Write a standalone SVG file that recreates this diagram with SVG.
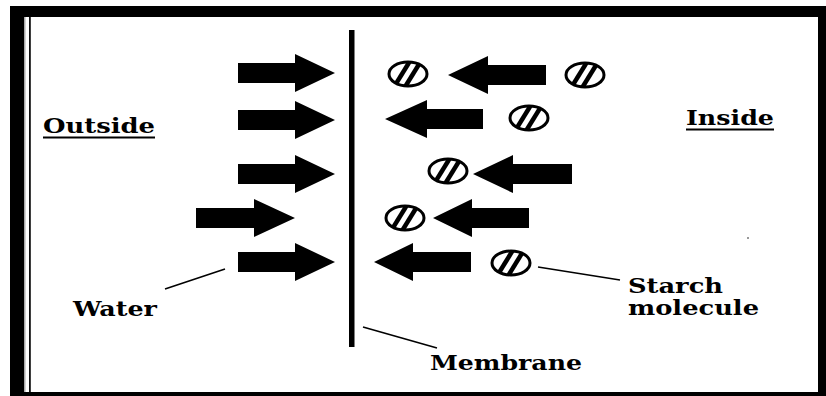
<svg xmlns="http://www.w3.org/2000/svg" xmlns:xlink="http://www.w3.org/1999/xlink" width="826" height="396" viewBox="0 0 826 396">
  <style>
    .arrow { fill: #000; }
    .lbl { font-family: "DejaVu Serif", "Liberation Serif", serif; font-weight: bold; font-size: 20px; fill: #000; }
    .lead { stroke: #000; stroke-width: 1.6; fill: none; }
    .ul { stroke: #000; stroke-width: 1.8; }
  </style>
  <defs>
    <clipPath id="ec"><ellipse cx="0" cy="0" rx="19" ry="12"/></clipPath>
    <g id="starch">
      <ellipse cx="0" cy="0" rx="19" ry="12" fill="#fff"/>
      <g clip-path="url(#ec)" stroke="#000" stroke-width="4.5">
        <line x1="-14" y1="13" x2="2" y2="-13"/>
        <line x1="-3" y1="13" x2="13" y2="-13"/>
      </g>
      <ellipse cx="0" cy="0" rx="19" ry="12" fill="none" stroke="#000" stroke-width="3"/>
    </g>
  </defs>

  <!-- frame -->
  <g id="frame">
    <rect x="10" y="6" width="816" height="390" fill="#000"/>
    <rect x="24" y="17" width="794" height="375" fill="#fff"/>
    <rect x="24" y="17" width="1.5" height="375" fill="#aaa"/>
    <rect x="29" y="17" width="1.8" height="375" fill="#111"/>
    <rect x="747" y="237" width="2" height="2" fill="#999"/>
  </g>

  <g id="membrane">
    <rect x="349" y="30" width="5.5" height="317" fill="#000"/>
  </g>

  <!-- water arrows (left side, pointing right) -->
  <g id="water-arrow-1"><polygon class="arrow" points="238,63 295,63 295,54 335,73 295,92 295,83 238,83"/></g>
  <g id="water-arrow-2"><polygon class="arrow" points="238,110 295,110 295,101 335,120 295,139 295,130 238,130"/></g>
  <g id="water-arrow-3"><polygon class="arrow" points="238,164 295,164 295,155 335,174 295,193 295,184 238,184"/></g>
  <g id="water-arrow-4"><polygon class="arrow" points="196,208 254,208 254,199 295,218 254,237 254,228 196,228"/></g>
  <g id="water-arrow-5"><polygon class="arrow" points="238,252 295,252 295,243 335,262 295,281 295,272 238,272"/></g>

  <!-- water arrows (right side, pointing left) -->
  <g id="water-arrow-6"><polygon class="arrow" points="546,65 488,65 488,56 448,75 488,94 488,85 546,85"/></g>
  <g id="water-arrow-7"><polygon class="arrow" points="483,109 427,109 427,100 385,119 427,138 427,129 483,129"/></g>
  <g id="water-arrow-8"><polygon class="arrow" points="572,164 513,164 513,155 473,174 513,193 513,184 572,184"/></g>
  <g id="water-arrow-9"><polygon class="arrow" points="529,208 472,208 472,199 433,218 472,237 472,228 529,228"/></g>
  <g id="water-arrow-10"><polygon class="arrow" points="471,252 413,252 413,243 374,262 413,281 413,272 471,272"/></g>

  <!-- starch molecules -->
  <g id="starch-1"><use href="#starch" xlink:href="#starch" transform="translate(408,74)"/></g>
  <g id="starch-2"><use href="#starch" xlink:href="#starch" transform="translate(585,75)"/></g>
  <g id="starch-3"><use href="#starch" xlink:href="#starch" transform="translate(529,118)"/></g>
  <g id="starch-4"><use href="#starch" xlink:href="#starch" transform="translate(448,171)"/></g>
  <g id="starch-5"><use href="#starch" xlink:href="#starch" transform="translate(405,218)"/></g>
  <g id="starch-6"><use href="#starch" xlink:href="#starch" transform="translate(511,263)"/></g>

  <!-- labels -->
  <g id="label-outside">
    <text class="lbl" x="43" y="133" textLength="112" lengthAdjust="spacingAndGlyphs">Outside</text>
    <line class="ul" x1="43" y1="137.5" x2="155" y2="137.5"/>
  </g>
  <g id="label-inside">
    <text class="lbl" x="686" y="125" textLength="88" lengthAdjust="spacingAndGlyphs">Inside</text>
    <line class="ul" x1="686" y1="129.5" x2="774" y2="129.5"/>
  </g>
  <g id="label-water">
    <text class="lbl" x="73" y="316" textLength="84" lengthAdjust="spacingAndGlyphs">Water</text>
  </g>
  <g id="label-membrane">
    <text class="lbl" x="430" y="370" textLength="152" lengthAdjust="spacingAndGlyphs">Membrane</text>
  </g>
  <g id="label-starch">
    <text class="lbl" x="628" y="293" textLength="95" lengthAdjust="spacingAndGlyphs">Starch</text>
    <text class="lbl" x="628" y="315" textLength="131" lengthAdjust="spacingAndGlyphs">molecule</text>
  </g>

  <!-- connectors (leader lines) -->
  <g id="connectors">
    <line class="lead" x1="165" y1="289" x2="225" y2="269"/>
    <line class="lead" x1="363" y1="327" x2="437" y2="348"/>
    <line class="lead" x1="538" y1="267" x2="620" y2="280"/>
  </g>
</svg>
